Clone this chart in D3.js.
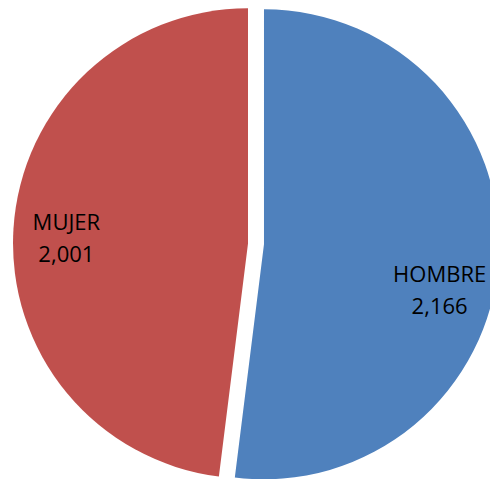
<!DOCTYPE html>
<html>
<head>
<meta charset="utf-8">
<script src="https://cdn.jsdelivr.net/npm/d3@7"></script>
<style>
html,body{margin:0;padding:0;background:#fff;overflow:hidden;}
svg{display:block;}
text{font-family:"Open Sans",sans-serif;font-size:22px;fill:#000;}
</style>
</head>
<body>
<script>
const categories = ["HOMBRE", "MUJER"];
const values = [2166, 2001];
const colors = ["#4F81BD", "#C0504D"];

const W = 490, H = 479;
const cx = 256, cy = 243.8, R = 235, explode = 8, labelR = 182;
// label nudges (Excel best-fit placement)
const labelShift = {HOMBRE: [-6, 28.5], MUJER: [0, 0]};

const data = categories.map((c, i) => ({name: c, value: values[i], color: colors[i]}));

const svg = d3.select("body").append("svg").attr("width", W).attr("height", H);

const pie = d3.pie().sort(null).value(d => d.value).startAngle(0).endAngle(2 * Math.PI);
const arc = d3.arc().innerRadius(0).outerRadius(R);
const labelArc = d3.arc().innerRadius(labelR).outerRadius(labelR);
const fmt = d3.format(",");

const arcs = pie(data);

const g = svg.append("g").attr("transform", `translate(${cx},${cy})`);

const slice = g.selectAll("g.slice").data(arcs).enter().append("g")
  .attr("class", "slice")
  .attr("transform", d => {
    const a = (d.startAngle + d.endAngle) / 2;
    return `translate(${explode * Math.sin(a)},${-explode * Math.cos(a)})`;
  });

slice.append("path").attr("d", arc).attr("fill", d => d.data.color);

slice.each(function(d) {
  const c = labelArc.centroid(d);
  const s = labelShift[d.data.name] || [0, 0];
  const x = c[0] + s[0], y = c[1] + s[1];
  const t = d3.select(this).append("text").attr("text-anchor", "middle");
  t.append("tspan").attr("x", x).attr("y", y - 2).text(d.data.name);
  t.append("tspan").attr("x", x).attr("y", y + 30).text(fmt(d.data.value));
});
</script>
</body>
</html>
